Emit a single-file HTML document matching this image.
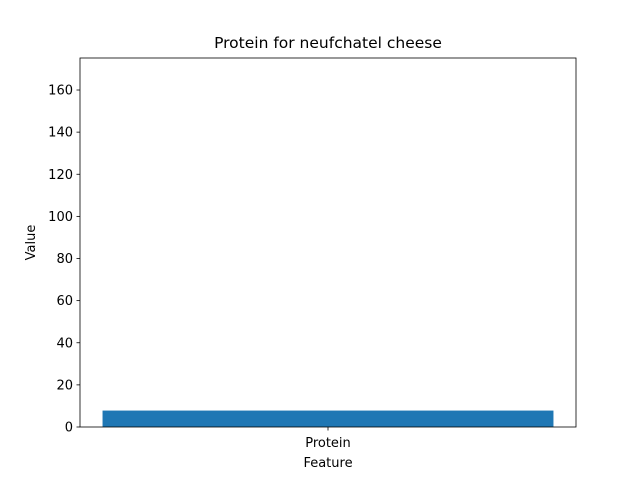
<!DOCTYPE html>
<html><head><meta charset="utf-8"><style>
body{margin:0;background:#fff;font-family:"Liberation Sans","DejaVu Sans",sans-serif;}
text{font-family:"DejaVu Sans","Liberation Sans",sans-serif;}
</style></head><body>
<svg id="c" width="640" height="480">
<rect width="640" height="480" fill="#fff"/>
</svg>
<script>
const categories=["Protein"];
const values=[7.8];
const yTicks=[0,20,40,60,80,100,120,140,160];
const yMax=175.2;
const L=80,R=576,T=58,B=427;
const svg=document.getElementById('c');
const ns='http://www.w3.org/2000/svg';
function y(v){return B-(v/yMax)*(B-T);}
function x(i){const n=categories.length;const lo=-0.44,hi=n-1+0.44;return L+(i-lo)/(hi-lo)*(R-L);}
function mk(tag,attrs,txt){const e=document.createElementNS(ns,tag);for(const k in attrs)e.setAttribute(k,attrs[k]);if(txt!==undefined)e.textContent=txt;svg.appendChild(e);return e;}
categories.forEach((c,i)=>{
  const x0=x(i-0.4),x1=x(i+0.4);
  const b=mk('rect',{x:x0,y:y(values[i]),width:x1-x0,height:B-y(values[i]),fill:'#1f77b4'});
  
  
  const t=mk('line',{x1:x(i),x2:x(i),y1:B,y2:B+3.5,stroke:'#000','stroke-width':0.8});
  
  
  const l=mk('text',{x:x(i),y:B+20,'text-anchor':'middle','font-size':13},c);
  
  
});
yTicks.forEach(v=>{
  const t=mk('line',{x1:L-3.5,x2:L,y1:y(v),y2:y(v),stroke:'#000','stroke-width':0.8});
  
  
  const l=mk('text',{x:L-7,y:y(v)+4.5,'text-anchor':'end','font-size':13},v);
  
  
});
const f=mk('rect',{x:L,y:T,width:R-L,height:B-T,fill:'none',stroke:'#000','stroke-width':0.8});


const ti=mk('text',{x:(L+R)/2,y:T-10,'text-anchor':'middle','font-size':15.5},'Protein for neufchatel cheese');


const xt=mk('text',{x:(L+R)/2,y:467,'text-anchor':'middle','font-size':13},'Feature');


const yt=mk('text',{x:35,y:(T+B)/2,'text-anchor':'middle','font-size':13,transform:'rotate(-90 35 '+(T+B)/2+')'},'Value');


</script>
</body></html>
